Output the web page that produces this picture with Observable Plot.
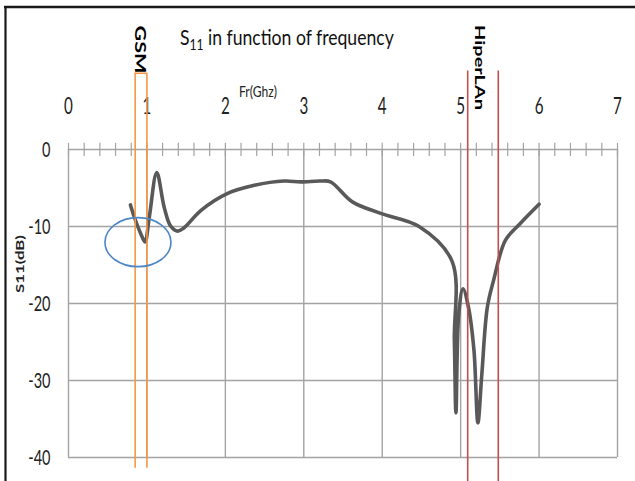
<!DOCTYPE html>
<html>
<head>
<meta charset="utf-8">
<script src="https://cdn.jsdelivr.net/npm/d3@7"></script>
<script src="https://cdn.jsdelivr.net/npm/@observablehq/plot@0.6"></script>
<style>
  body { margin: 0; background: #fff; }
  #chart { position: relative; width: 635px; height: 481px; }
</style>
</head>
<body>
<div id="chart"></div>
<script>
// ---- data ----
const freqGHz = [0.79, 0.84, 0.92, 0.975, 1.03, 1.125, 1.22, 1.30, 1.39, 1.47, 1.69, 2.03, 2.37, 2.75, 2.96, 3.21, 3.34, 3.62, 3.98, 4.47, 4.89, 4.92, 4.94, 4.976, 5.03, 5.10, 5.17, 5.22, 5.27, 5.34, 5.42, 5.57, 5.76, 6.0];
const s11dB   = [-7.2, -8.8, -10.9, -12.0, -8.8, -3.0, -7.5, -9.9, -10.6, -10.2, -7.9, -5.7, -4.65, -4.1, -4.2, -4.1, -4.2, -6.8, -8.3, -10.0, -14.5, -24.8, -34.2, -21.4, -18.1, -20.5, -26.1, -35.5, -29.2, -20.5, -17.0, -11.8, -9.6, -7.1];
const xTicks = [0, 1, 2, 3, 4, 5, 6, 7];
const yTicks = [0, -10, -20, -30, -40];
const minorTicks = [0, 0.2, 0.4, 0.6, 0.8, 1, 1.2, 1.4, 1.6, 1.8, 2, 2.2, 2.4, 2.6, 2.8, 3, 3.2, 3.4, 3.6, 3.8, 4, 4.2, 4.4, 4.6, 4.8, 5, 5.2, 5.4, 5.6, 5.8, 6, 6.2, 6.4, 6.6, 6.8, 7];
const gsmBand = [0.85, 1.0];
const hiperlanBand = [5.09, 5.48];
const titleMain = "S";
const titleSub = "11";
const titleRest = " in function of frequency";
const xUnitLabel = "Fr(Ghz)";
const yLabel = "S11(dB)";
const gsmLabel = "GSM";
const hiperlanLabel = "HiperLAn";

const data = freqGHz.map((f, i) => ({f, s: s11dB[i]}));

const chart = Plot.plot({
  width: 635,
  height: 481,
  marginLeft: 68,
  marginRight: 18,
  marginTop: 149,
  marginBottom: 24,
  x: {domain: [0, 7]},
  y: {domain: [-40, 0]},
  style: {fontFamily: "Lato, 'Open Sans', sans-serif", background: "white", color: "#222"},
  marks: [
    Plot.ruleY(yTicks, {x1: 0, x2: 7, stroke: "#a3a3a3", strokeWidth: 1.4}),
    Plot.ruleX(xTicks, {y1: 0, y2: -40, stroke: "#a3a3a3", strokeWidth: 1.4}),
    Plot.ruleX(minorTicks, {y1: 0.8, y2: -0.9, stroke: "#a3a3a3", strokeWidth: 1.2}),
    Plot.axisX({anchor: "top", ticks: xTicks, tickFormat: d => String(d), tickSize: 0, tickPadding: 36, fontSize: 23, label: null, fill: "#222"}),
    Plot.axisY({anchor: "left", ticks: yTicks, tickFormat: d => String(d), tickSize: 0, tickPadding: 18, fontSize: 22, label: null, fill: "#222"}),
    Plot.line(data, {x: "f", y: "s", stroke: "#595959", strokeWidth: 3.6, curve: "catmull-rom", strokeLinejoin: "round", strokeLinecap: "round"}),
    Plot.ruleX(gsmBand, {y1: 9.9, y2: -41.4, stroke: "#f79646", strokeWidth: 1.6}),
    Plot.ruleY([9.9], {x1: gsmBand[0], x2: gsmBand[1], stroke: "#f79646", strokeWidth: 1.6}),
    Plot.ruleX(hiperlanBand, {y1: 10.2, y2: -43.5, stroke: "#c0504d", strokeWidth: 1.6})
  ]
});

document.getElementById("chart").appendChild(chart);

const svg = d3.select(chart);
const xs = chart.scale("x"), ys = chart.scale("y");

// condense the tick labels (the reference font is narrow)
chart.querySelectorAll('g[aria-label="x-axis tick label"] text, g[aria-label="y-axis tick label"] text').forEach(t => {
  const tr = t.getAttribute("transform");
  if (tr) t.setAttribute("transform", tr + " scale(0.66,1)");
  else {
    const x = +t.getAttribute("x") || 0, y = +t.getAttribute("y") || 0;
    t.setAttribute("transform", `translate(${x},${y}) scale(0.66,1) translate(${-x},${-y})`);
  }
});

// GSM marker ellipse
svg.append("ellipse")
  .attr("cx", xs.apply(0.892)).attr("cy", ys.apply(-12.1))
  .attr("rx", 33).attr("ry", 24.5)
  .attr("fill", "none").attr("stroke", "#4f86c6").attr("stroke-width", 1.6);

function fitText(sel, x, y, rotate, target) {
  const len = sel.node().getComputedTextLength();
  const s = target / len;
  sel.attr("transform", `translate(${x},${y}) rotate(${rotate}) scale(${s},1)`);
}

const font = "Lato, 'Open Sans', sans-serif";

// Title
const title = svg.append("text").attr("font-family", font).attr("font-size", 22).attr("fill", "#111").attr("text-anchor", "start");
title.append("tspan").text(titleMain);
title.append("tspan").attr("font-size", 15).attr("dy", 5).text(titleSub);
title.append("tspan").attr("dy", -5).text(titleRest);
fitText(title, 180, 45, 0, 214);

// x unit label
const fr = svg.append("text").attr("font-family", font).attr("font-size", 15).attr("fill", "#222").attr("text-anchor", "start").text(xUnitLabel);
fitText(fr, 239, 96.5, 0, 38);

// GSM label
const gsm = svg.append("text").attr("font-family", font).attr("font-size", 16).attr("font-weight", "bold").attr("fill", "#000").attr("text-anchor", "middle").text(gsmLabel);
fitText(gsm, 135, 49.5, 90, 48);

// HiperLAn label
const hip = svg.append("text").attr("font-family", font).attr("font-size", 14).attr("font-weight", "bold").attr("fill", "#000").attr("text-anchor", "middle").text(hiperlanLabel);
fitText(hip, 475, 67.5, 90, 85);

// Y label
const yl = svg.append("text").attr("font-family", font).attr("font-size", 11.5).attr("font-weight", "bold").attr("fill", "#222").attr("text-anchor", "middle").text(yLabel);
fitText(yl, 24, 264, -90, 58);

// outer frame (top and left edges visible in the reference)
svg.append("line").attr("x1", 4).attr("x2", 635).attr("y1", 7).attr("y2", 7).attr("stroke", "#1a1a1a").attr("stroke-width", 2.5);
svg.append("line").attr("x1", 5.5).attr("x2", 5.5).attr("y1", 6).attr("y2", 481).attr("stroke", "#1a1a1a").attr("stroke-width", 2.2);
</script>
</body>
</html>
